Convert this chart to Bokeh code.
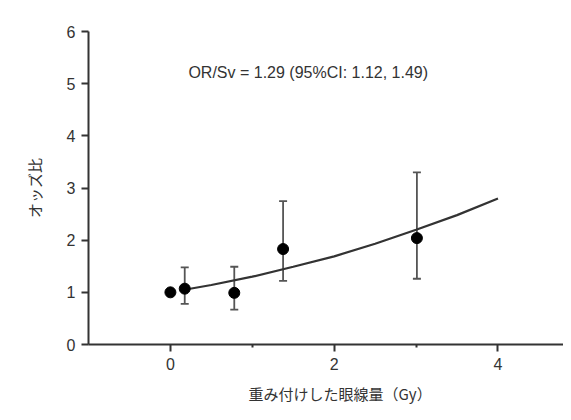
from bokeh.plotting import figure
from bokeh.models import (ColumnDataSource, Whisker, Label, FixedTicker, Range1d, Title)
from bokeh.embed import file_html
from bokeh.resources import INLINE

# data
dose = [0.0, 0.175, 0.78, 1.376, 3.01]
odds = [1.00, 1.07, 0.99, 1.83, 2.04]
ci_low = [1.00, 0.78, 0.67, 1.22, 1.26]
ci_high = [1.00, 1.48, 1.49, 2.75, 3.30]

fit_x = [0.17, 0.5, 1.0, 1.5, 2.0, 2.5, 3.0, 3.5, 4.0]
fit_y = [1.05, 1.14, 1.30, 1.49, 1.69, 1.93, 2.20, 2.48, 2.80]

x_ticks = [0, 2, 4]
x_minor = [1, 3]
y_ticks = [0, 1, 2, 3, 4, 5, 6]

annotation = "OR/Sv = 1.29 (95%CI: 1.12, 1.49)"
x_title = "重み付けした眼線量（Gy）"
y_title = "オッズ比"

LATIN = "Liberation Sans"
JP = "Noto Sans CJK JP"
AX = "#333333"

p = figure(width=563, height=412, output_backend="svg", toolbar_location=None,
           x_range=Range1d(-1, 4.80), y_range=Range1d(0, 6),
           min_border_left=88, min_border_right=0, min_border_top=31,
           min_border_bottom=63)
p.outline_line_color = None
p.grid.visible = False
p.background_fill_color = "white"
p.border_fill_color = "white"

# axes
p.xaxis.ticker = FixedTicker(ticks=x_ticks, minor_ticks=x_minor)
p.yaxis.ticker = FixedTicker(ticks=y_ticks)
for ax in (p.xaxis, p.yaxis):
    ax.axis_line_color = AX
    ax.axis_line_width = 2
    ax.major_tick_line_color = AX
    ax.major_tick_line_width = 2
    ax.major_tick_out = 7
    ax.major_tick_in = 0
    ax.minor_tick_line_color = AX
    ax.minor_tick_line_width = 2
    ax.minor_tick_out = 3
    ax.minor_tick_in = 0
    ax.major_label_text_font = LATIN
    ax.major_label_text_font_size = "16px"
    ax.major_label_text_color = "#333333"
    ax.major_label_standoff = 6
p.yaxis.minor_tick_line_color = None

p.yaxis.axis_label = y_title
p.yaxis.axis_label_text_font = JP
p.yaxis.axis_label_text_font_size = "15px"
p.yaxis.axis_label_text_font_style = "normal"
p.yaxis.axis_label_text_color = "#333333"
p.yaxis.axis_label_standoff = 19

# x axis title (below the axis, centred on x = 2 of the uncropped axis)
p.add_layout(Title(text=x_title, align="left", offset=160, standoff=17,
                   text_font=JP, text_font_size="15px", text_font_style="normal",
                   text_color="#333333"), "below")

# fitted curve
p.line(fit_x, fit_y, line_color="#333333", line_width=2.2)

# error bars
src = ColumnDataSource(dict(x=dose[1:], y=odds[1:], lo=ci_low[1:], hi=ci_high[1:]))
w = Whisker(base="x", lower="lo", upper="hi", source=src,
            line_color="#555555", line_width=1.8)
for head in (w.upper_head, w.lower_head):
    head.size = 8
    head.line_color = "#555555"
    head.line_width = 1.8
p.add_layout(w)

# points
p.scatter(dose, odds, size=11, fill_color="black", line_color="black")

# annotation
p.add_layout(Label(x=0.22, y=5.22, text=annotation, text_font=LATIN,
                   text_font_size="16px", text_color="#333333", text_baseline="middle",
                   text_align="left"))

open("out.html", "w").write(file_html(p, INLINE))
